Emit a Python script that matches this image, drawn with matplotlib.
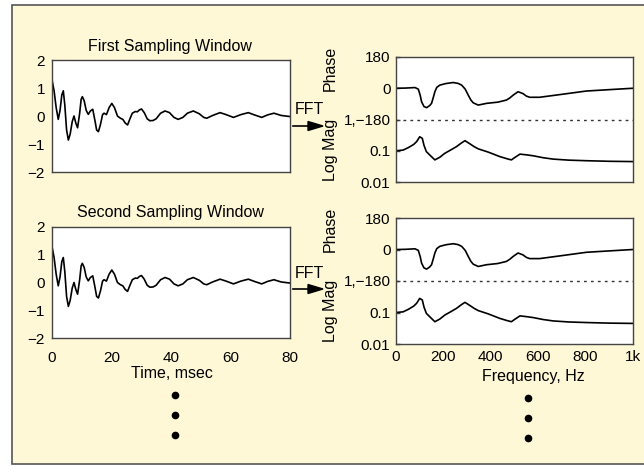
import matplotlib.pyplot as plt
from matplotlib.patches import Rectangle
from matplotlib.lines import Line2D
import numpy as np

plt.rcParams['font.family'] = ['Liberation Sans', 'DejaVu Sans']

# time signal (msec, amplitude)
t_ms = [0.0, 0.7, 1.4, 2.1, 2.7, 3.3, 3.8, 4.3, 4.9, 5.5, 6.1, 6.8, 7.4, 8.0, 8.6,
        9.3, 9.8, 10.2, 10.8, 11.5, 12.2, 12.9, 13.7, 14.5, 15.0, 15.6, 16.3, 17.0,
        17.5, 18.3, 19.2, 20.1, 21.0, 22.0, 23.0, 23.8, 24.6, 25.4, 26.2, 27.0, 28.0,
        28.7, 29.4, 30.1, 31.0, 32.0, 32.9, 34.0, 35.0, 36.5, 38.0, 39.5, 41.0, 42.4,
        44.0, 45.5, 47.5, 49.5, 51.0, 52.0, 54.0, 56.5, 58.5, 61.0, 63.5, 66.0, 68.0,
        70.5, 72.5, 74.6, 77.0, 80.0]
amp = [1.29, 0.9, 0.3, -0.12, 0.2, 0.75, 0.9, 0.4, -0.5, -0.86, -0.65, -0.2, 0.0, -0.25, -0.42,
       0.1, 0.6, 0.69, 0.55, 0.2, 0.06, 0.18, 0.24, -0.2, -0.5, -0.56, -0.3, 0.05,
       0.1, 0.05, 0.3, 0.45, 0.3, 0.0, -0.08, -0.12, -0.25, -0.32, -0.1, 0.1, 0.16,
       0.15, 0.22, 0.25, 0.12, -0.1, -0.17, -0.16, -0.1, 0.1, 0.18, 0.12, -0.05, -0.12,
       -0.05, 0.1, 0.18, 0.08, -0.05, -0.08, 0.02, 0.12, 0.05, -0.05, 0.05, 0.12, 0.04,
       -0.05, 0.04, 0.1, 0.02, -0.02]

# phase spectrum (Hz, degrees)
f_ph = [0, 40, 80, 94, 102, 108, 118, 129, 142, 150, 158, 164, 172, 185, 210, 241, 262,
        277, 292, 305, 316, 326, 347, 382, 430, 466, 481, 494, 515, 536, 550, 564, 606,
        700, 803, 900, 1000]
phase = [0, 1, 4, -5, -40, -78, -105, -112, -100, -87, -50, -20, 5, 18, 27, 33, 28,
         18, -5, -40, -68, -84, -97, -87, -80, -68, -55, -40, -20, -31, -45, -52, -52,
         -35, -16, -8, 0]

# magnitude spectrum (Hz, linear mag on log axis)
f_mag = [0, 30, 52, 75, 87, 100, 111, 118, 128, 145, 164, 185, 206, 230, 255, 275, 291,
         310, 330, 347, 390, 438, 470, 487, 500, 523, 550, 579, 620, 663, 730, 803, 900, 1000]
mag = [0.1, 0.105, 0.126, 0.16, 0.196, 0.28, 0.25, 0.15, 0.094, 0.07, 0.051, 0.062, 0.083,
       0.105, 0.135, 0.175, 0.21, 0.17, 0.135, 0.115, 0.09, 0.065, 0.055, 0.051, 0.06,
       0.078, 0.074, 0.069, 0.06, 0.054, 0.05, 0.048, 0.046, 0.045]

time_ticks = [0, 20, 40, 60, 80]
amp_ticks = [-2, -1, 0, 1, 2]
amp_labels = ['\u22122', '\u22121', '0', '1', '2']
freq_ticks = [0, 200, 400, 600, 800, 1000]
freq_labels = ['0', '200', '400', '600', '800', '1k']
spec_labels = ['0.01', '0.1', '1,\u2212180', '0', '180']

W, H = 644, 466
bg = '#fef8d6'
fig = plt.figure(figsize=(W / 100, H / 100), dpi=100)
fig.patch.set_facecolor('white')
fig.add_artist(Rectangle((12 / W, 1 - 464 / H), 640 / W, 459 / H, transform=fig.transFigure,
                         facecolor=bg, edgecolor='#555555', lw=1.2, zorder=-10))

tick_fs = 11
fs = 11.5


def box(x0, y0, x1, y1):
    return [x0 / W, 1 - y1 / H, (x1 - x0) / W, (y1 - y0) / H]


def style(ax):
    for s in ax.spines.values():
        s.set_color('#444444')
        s.set_linewidth(1.0)
    ax.tick_params(length=0, labelsize=tick_fs)


def time_panel(rect, show_x):
    ax = fig.add_axes(rect)
    ax.plot(t_ms, amp, color='black', lw=1.2)
    ax.set_xlim(0, 80)
    ax.set_ylim(-2, 2)
    ax.set_yticks(amp_ticks)
    ax.set_yticklabels(amp_labels)
    ax.set_xticks(time_ticks)
    style(ax)
    ax.tick_params(axis='y', pad=5)
    ax.tick_params(axis='x', pad=9)
    if not show_x:
        ax.set_xticklabels([])
    return ax


def spec_panel(rect, show_x):
    ax = fig.add_axes(rect)
    ax.plot(f_ph, 3 + np.array(phase) / 180.0, color='black', lw=1.2)
    ax.plot(f_mag, 2 + np.log10(mag), color='black', lw=1.2)
    ax.axhline(2, color='#333333', lw=1.0, ls=(0, (2, 3)))
    ax.set_xlim(0, 1000)
    ax.set_ylim(0, 4)
    ax.set_yticks([0, 1, 2, 3, 4])
    ax.set_yticklabels(spec_labels)
    ax.set_xticks(freq_ticks)
    ax.set_xticklabels(freq_labels)
    style(ax)
    ax.tick_params(axis='y', direction='in', length=3, width=1.0, color='#444444', pad=4)
    ax.tick_params(axis='x', pad=4)
    if not show_x:
        ax.set_xticklabels([])
    return ax


time_panel(box(52, 60, 290, 172), False)
time_panel(box(52, 227, 290, 338), True)
spec_panel(box(396, 57, 633, 182), False)
spec_panel(box(396, 218, 633, 344), True)


def ftext(x, y, s, **kw):
    fig.text(x / W, 1 - y / H, s, ha='center', va='center', fontsize=kw.pop('size', fs), **kw)


ftext(170, 47, 'First Sampling Window')
ftext(170, 213, 'Second Sampling Window')
ftext(172, 373, 'Time, msec')
ftext(533, 377, 'Frequency, Hz')
for off in (0, 161):
    ftext(330, 68 + off, 'Phase', rotation=90)
    ftext(330, 150 + off, 'Log Mag', rotation=90)

for ya, yt in ((126, 110), (289, 273)):
    ftext(309, yt, 'FFT')
    fig.add_artist(plt.Line2D([293 / W, 310 / W], [1 - ya / H] * 2, color='black', lw=1.2,
                              transform=fig.transFigure))
    fig.patches.append(plt.Polygon([[308 / W, 1 - (ya - 4.5) / H], [323 / W, 1 - ya / H],
                                    [308 / W, 1 - (ya + 4.5) / H]], closed=True,
                                   facecolor='black', edgecolor='black',
                                   transform=fig.transFigure))

for xd, ys in ((175, (395, 415, 435)), (528, (398, 418, 438))):
    fig.add_artist(Line2D([xd / W] * 3, [1 - y / H for y in ys], ls='none', marker='o',
                          markersize=4.5, color='black', transform=fig.transFigure))

fig.savefig('out.png', dpi=100, facecolor=fig.get_facecolor())
